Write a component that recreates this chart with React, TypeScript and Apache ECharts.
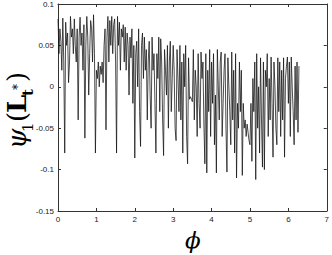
import React, { useEffect, useRef } from "react";
import * as echarts from "echarts";

const PHI_STEP = 0.025;
const PSI_VALUES: number[] = [
  0.082, 0.04, 0.07, 0.055, 0.02, 0.083, 0.03, -0.08, 0.078, 0.05,
  0.065, 0.005, 0.03, 0.085, 0.06, 0.07, 0.04, 0.082, 0.05, 0.03,
  0.07, -0.04, 0.06, 0.084, 0.05, 0.065, 0.02, 0.075, -0.062, 0.05,
  0.085, 0.06, -0.01, 0.04, 0.08, 0.07, 0.03, 0.087, 0.04, -0.08,
  0.02, 0.01, 0.03, 0.0, 0.025, 0.015, 0.03, 0.005, 0.05, 0.07,
  -0.052, 0.06, 0.085, 0.03, 0.08, 0.05, 0.085, 0.04, 0.075, 0.082,
  0.03, -0.08, 0.085, 0.05, 0.078, 0.02, 0.07, 0.06, 0.075, 0.03,
  0.072, 0.02, 0.065, 0.05, -0.01, 0.06, 0.035, 0.07, -0.02, 0.05,
  -0.086, 0.04, 0.055, 0.0, 0.07, -0.03, -0.072, 0.05, 0.065, 0.01,
  0.06, 0.02, 0.045, -0.04, 0.03, 0.055, -0.01, -0.05, 0.06, 0.02,
  0.04, -0.02, -0.08, 0.04, 0.01, 0.06, -0.03, 0.058, 0.03, -0.04,
  -0.083, 0.045, 0.02, -0.01, 0.05, -0.05, 0.03, 0.055, -0.03, 0.01,
  0.05, 0.02, -0.05, -0.065, 0.045, 0.01, -0.03, 0.05, -0.04, 0.03,
  -0.08, 0.04, 0.0, 0.05, -0.06, -0.093, 0.035, -0.015, -0.012, -0.015,
  -0.018, 0.045, -0.04, 0.02, 0.0, -0.06, 0.04, -0.02, -0.05, 0.042,
  0.01, 0.03, -0.045, -0.093, 0.04, -0.104, 0.02, -0.03, 0.045, -0.06,
  0.03, -0.02, 0.04, -0.07, -0.01, -0.104, 0.045, 0.0, -0.04, 0.03,
  0.042, -0.06, -0.02, 0.02, 0.04, -0.05, -0.103, 0.035, 0.0, -0.03,
  -0.07, 0.042, -0.04, 0.02, -0.08, 0.04, -0.11, -0.02, -0.05, 0.03,
  -0.03, 0.02, -0.107, -0.02, -0.05, -0.04, -0.06, -0.045, -0.055, -0.065,
  -0.07, -0.02, -0.09, 0.01, -0.03, 0.03, -0.112, 0.04, -0.05, 0.0,
  -0.08, 0.035, -0.04, -0.097, 0.03, -0.1, 0.02, 0.0, 0.04, -0.06,
  0.01, -0.04, 0.036, -0.02, -0.085, 0.03, 0.0, -0.05, -0.07, 0.035,
  -0.03, 0.03, -0.06, 0.02, -0.04, 0.035, -0.085, 0.01, 0.025, 0.036,
  -0.02, 0.03, -0.06, 0.036, 0.0, -0.03, -0.07, 0.025, -0.04, 0.03,
  -0.055, 0.025,
];

const X_MIN = 0;
const X_MAX = 7;
const X_INTERVAL = 1;
const Y_MIN = -0.15;
const Y_MAX = 0.1;
const Y_INTERVAL = 0.05;

const SERIF = "'DejaVu Serif', 'Liberation Serif', serif";
const SANS = "'Liberation Sans', Arial, sans-serif";

export default function App() {
  const ref = useRef<HTMLDivElement>(null);
  useEffect(() => {
    if (!ref.current) return;
    const chart = echarts.init(ref.current, null, { renderer: "svg" });
    const data = PSI_VALUES.map((v, i) => [+(i * PHI_STEP).toFixed(4), v]);
    const fmtY = (v: number) => String(+v.toFixed(2));
    const axisCommon = {
      axisLine: { show: true, onZero: false, lineStyle: { color: "#333", width: 1 } },
      axisTick: { show: true, inside: true, length: 3, lineStyle: { color: "#333" } },
      splitLine: { show: false },
    };
    const fs = 26;
    chart.setOption({
      animation: false,
      backgroundColor: "#fff",
      grid: { left: 58, right: 3, top: 4, bottom: 44, containLabel: false },
      xAxis: [
        {
          type: "value", position: "bottom", min: X_MIN, max: X_MAX, interval: X_INTERVAL,
          ...axisCommon,
          axisLabel: { color: "#222", fontSize: 8, fontFamily: SANS, margin: 4 },
        },
        {
          type: "value", position: "top", min: X_MIN, max: X_MAX, interval: X_INTERVAL,
          ...axisCommon, axisLabel: { show: false },
        },
      ],
      yAxis: [
        {
          type: "value", position: "left", min: Y_MIN, max: Y_MAX, interval: Y_INTERVAL,
          ...axisCommon,
          axisLabel: { color: "#222", fontSize: 8, fontFamily: SANS, margin: 4, formatter: fmtY },
        },
        {
          type: "value", position: "right", min: Y_MIN, max: Y_MAX, interval: Y_INTERVAL,
          ...axisCommon, axisLabel: { show: false },
        },
      ],
      series: [
        {
          type: "line",
          xAxisIndex: 0,
          yAxisIndex: 0,
          data,
          showSymbol: false,
          symbol: "none",
          lineStyle: { color: "#111", width: 0.75 },
        },
      ],
      graphic: [
        {
          type: "text",
          left: 185,
          top: 228,
          style: { text: "ϕ", font: `italic 23px ${SERIF}`, fill: "#000" },
        },
        {
          type: "group",
          x: 30,
          y: 149,
          rotation: Math.PI / 2,
          children: [
            { type: "text", x: 0, y: 0, style: { text: "ψ", font: `italic ${fs}px ${SERIF}`, fill: "#000", verticalAlign: "bottom" } },
            { type: "text", x: 17, y: 5, style: { text: "1", font: `15px ${SERIF}`, fill: "#000", verticalAlign: "bottom" } },
            { type: "text", x: 27, y: 0, style: { text: "(", font: `${fs}px ${SERIF}`, fill: "#000", verticalAlign: "bottom" } },
            { type: "text", x: 36, y: 0, style: { text: "L", font: `bold ${fs}px ${SERIF}`, fill: "#000", verticalAlign: "bottom" } },
            { type: "text", x: 53, y: 5, style: { text: "t", font: `bold 15px ${SERIF}`, fill: "#000", verticalAlign: "bottom" } },
            { type: "text", x: 59, y: -6, style: { text: "*", font: `12px ${SERIF}`, fill: "#000", verticalAlign: "bottom" } },
            { type: "text", x: 67, y: 0, style: { text: ")", font: `${fs}px ${SERIF}`, fill: "#000", verticalAlign: "bottom" } },
          ],
        },
      ],
    });
    return () => chart.dispose();
  }, []);
  return (
    <div
      ref={ref}
      style={{ position: "fixed", left: 0, top: 0, width: 332, height: 255 }}
    />
  );
}
